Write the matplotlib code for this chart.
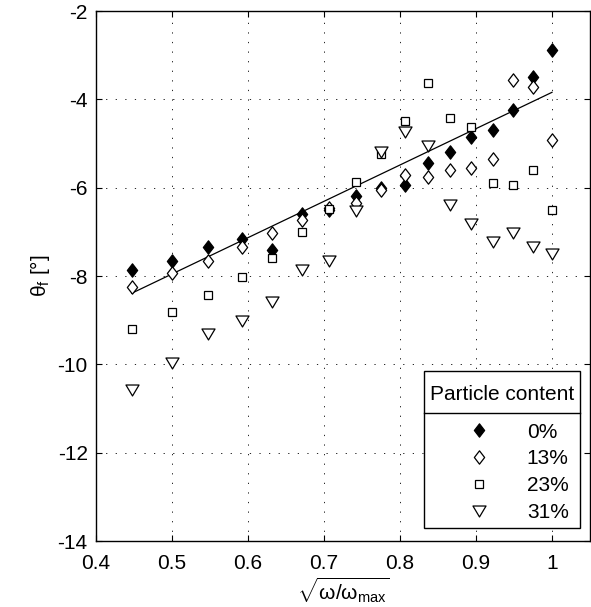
import numpy as np
import matplotlib
matplotlib.use("Agg")
import matplotlib.pyplot as plt
from matplotlib.path import Path
from matplotlib.patches import Rectangle

# ---------------- data ----------------
x_vals = [0.447, 0.500, 0.548, 0.592, 0.632, 0.671, 0.707, 0.742, 0.775,
          0.806, 0.837, 0.866, 0.894, 0.922, 0.949, 0.975, 1.000]

y_0 = [-7.86, -7.65, -7.34, -7.16, -7.41, -6.60, -6.50, -6.18, -6.00,
       -5.93, -5.43, -5.20, -4.85, -4.69, -4.25, -3.50, -2.88]
y_13 = [-8.24, -7.93, -7.65, -7.34, -7.03, -6.73, -6.45, -6.34, -6.05,
        -5.71, -5.75, -5.60, -5.56, -5.36, -3.55, -3.73, -4.92]
y_23 = [-9.19, -8.81, -8.44, -8.02, -7.59, -7.00, -6.48, -5.88, -5.24,
        -4.49, -3.64, -4.43, -4.63, -5.89, -5.93, -5.59, -6.51]
y_31 = [-10.58, -9.96, -9.32, -9.01, -8.58, -7.86, -7.66, -6.53, -5.19,
        -4.73, -5.05, -6.39, -6.83, -7.24, -7.03, -7.34, -7.49]

fit_x = [0.447, 1.000]
fit_y = [-8.39, -3.84]

labels = ["0%", "13%", "23%", "31%"]
legend_title = "Particle content"
x_ticks = [0.4, 0.5, 0.6, 0.7, 0.8, 0.9, 1.0]
x_ticklabels = ["0.4", "0.5", "0.6", "0.7", "0.8", "0.9", "1"]
y_ticks = [-14, -12, -10, -8, -6, -4, -2]

# ---------------- style ----------------
plt.rcParams['font.family'] = ['Liberation Sans', 'DejaVu Sans']
plt.rcParams['axes.unicode_minus'] = False
plt.rcParams['mathtext.fontset'] = 'custom'
plt.rcParams['mathtext.rm'] = 'Liberation Sans'
plt.rcParams['mathtext.it'] = 'Liberation Sans'

FS = 15

diamond = Path([(0, 1), (0.77, 0), (0, -1), (-0.77, 0), (0, 1)],
               [Path.MOVETO, Path.LINETO, Path.LINETO, Path.LINETO, Path.CLOSEPOLY])
tri_down = Path([(-1, 0.84), (1, 0.84), (0, -0.84), (-1, 0.84)],
                [Path.MOVETO, Path.LINETO, Path.LINETO, Path.CLOSEPOLY])

fig = plt.figure(figsize=(5.91, 6.07), dpi=100)
ax = fig.add_axes([0.1624, 0.1087, 0.8359, 0.8731])

ax.grid(True, color='k', linestyle=(0, (1.5, 10)), linewidth=0.6)
ax.set_axisbelow(True)

ax.plot(fit_x, fit_y, color='k', lw=0.9, zorder=2)

mew = 0.9
h0, = ax.plot(x_vals, y_0, linestyle='none', marker=diamond, markersize=9.6,
              mfc='k', mec='k', mew=mew, zorder=3, label=labels[0])
h1, = ax.plot(x_vals, y_13, linestyle='none', marker=diamond, markersize=9.6,
              mfc='white', mec='k', mew=mew, zorder=4, label=labels[1])
h2, = ax.plot(x_vals, y_23, linestyle='none', marker='s', markersize=5.8,
              mfc='white', mec='k', mew=mew, zorder=5, label=labels[2])
h3, = ax.plot(x_vals, y_31, linestyle='none', marker=tri_down, markersize=9.4,
              mfc='white', mec='k', mew=mew, zorder=6, label=labels[3])

ax.set_xlim(0.4, 1.05)
ax.set_ylim(-14, -2)
ax.set_xticks(x_ticks)
ax.set_xticklabels(x_ticklabels)
ax.set_yticks(y_ticks)
ax.tick_params(direction='in', length=4, width=0.8, top=True, right=True,
               labelsize=FS)
ax.tick_params(axis='x', pad=9)
ax.tick_params(axis='y', pad=6)
for s in ax.spines.values():
    s.set_linewidth(1.0)

ax.set_xlabel(r'$\sqrt{\omega/\omega_{\rm max}}$', fontsize=FS, labelpad=1.5)
ax.set_ylabel(r'$\theta_f$ [°]', fontsize=FS, labelpad=4)

# legend box (drawn manually for MATLAB-like layout)
bx0, bx1 = 0.664, 0.980
by0, by1 = 0.0245, 0.3208
ysep = 0.2415
ax.add_patch(Rectangle((bx0, by0), bx1 - bx0, by1 - by0, transform=ax.transAxes,
                       facecolor='white', edgecolor='k', lw=1.0, zorder=20))
ax.plot([bx0, bx1], [ysep, ysep], transform=ax.transAxes, color='k', lw=1.0,
        zorder=21)
ax.text((bx0 + bx1) / 2, 0.2774, legend_title, transform=ax.transAxes,
        ha='center', va='center', fontsize=FS, zorder=22)

leg = ax.legend(handles=[h0, h1, h2, h3], loc='upper left',
                bbox_to_anchor=(0.733, 0.2232), borderaxespad=0, borderpad=0,
                fontsize=FS, frameon=False, handlelength=2.0,
                handletextpad=1.3, labelspacing=0.37, numpoints=1)
leg.set_zorder(25)

fig.savefig('out.png', dpi=100)
